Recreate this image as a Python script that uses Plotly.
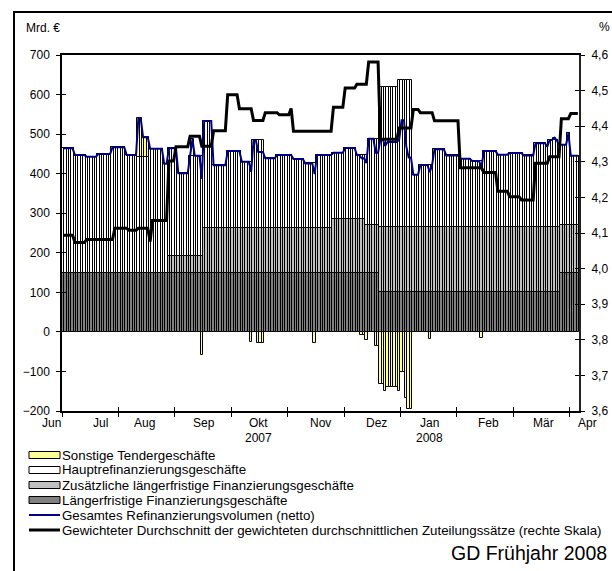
import numpy as np
import plotly.graph_objects as go

# business days on a category axis, Jun 2007 - Mar 2008
N_DAYS = 220

# values are run-length coded: level, number of days it holds
LTRO_LEVELS = [150, 100, 150]
LTRO_RUNS = [135, 77, 8]

SUPP_LEVELS = [0, 42, 113, 135, 120, 166, 120]
SUPP_RUNS = [45, 15, 55, 14, 6, 77, 8]

MRO_LEVELS = [314, 297, 293, 300, 317, 297, 293, 313, 275,
              272, 209, 253,
              270, 158, 194, 167, 221, 176, 184, 174, 163, 184,
              168, 180, 162, 177, 218,
              353, 370, 131, 156, 196, 180, 172, 166, 191, 182, 186, 180, 211, 202, 219, 207,
              203, 232, 175]
MRO_RUNS = [5, 5, 5, 6, 6, 5, 5, 6, 2,
            4, 5, 6,
            4, 6, 6, 5, 5, 5, 7, 5, 5, 7,
            5, 5, 4, 1, 5,
            8, 6, 3, 6, 5, 6, 5, 5, 6, 5, 6, 5, 5, 1, 4, 1,
            3, 1, 4]

# fine tuning operations (sparse)
OTHER_DAYS = [32, 33, 34, 35, 36, 55, 59, 80, 83, 84, 85, 107, 127, 128, 129,
              133, 134, 135, 136, 137, 138, 139, 140, 141, 142, 143, 144, 145,
              146, 147, 148, 156, 178, 209]
OTHER_VALUES = [97, 97, 49, 49, 49, 42, -58, -25, -29, -29, -29, -27, -8, -8, -20,
                -35, -35, -132, -132, -149, -139, -139, -139, -139, -139, -149, -101, -101,
                -167, -195, -195, -18, -16, 6]

RATE_LEVELS = [4.094, 4.073, 4.082, 4.113, 4.108, 4.113, 4.076, 4.135,
               4.302, 4.342, 4.372, 4.344, 4.387,
               4.488, 4.449, 4.416, 4.438, 4.432, 4.450,
               4.386,
               4.453, 4.507, 4.518, 4.580,
               4.363, 4.395, 4.447, 4.438, 4.415,
               4.283, 4.270, 4.217, 4.202, 4.193,
               4.296, 4.314, 4.421, 4.436]
RATE_RUNS = [5, 5, 12, 6, 4, 5, 1, 7,
             3, 6, 5, 5, 6,
             5, 6, 5, 6, 5, 1,
             17,
             5, 5, 5, 5,
             8, 6, 3, 6, 11,
             10, 6, 5, 5, 6,
             6, 5, 4, 4]

MONTH_LABELS = ["Jun", "Jul", "Aug", "Sep", "Okt", "Nov", "Dez", "Jan", "Feb", "Mär", "Apr"]
MONTH_POS = [-4.8, 15.7, 34.8, 59.9, 83.3, 109.3, 133.5, 155.7, 180.8, 204.2, 223.2]
YEAR_LABELS = ["2007", "2008"]
YEAR_POS = [83.3, 155.7]
TICK_POS = [-0.5 + 24 * k for k in range(10)]

LEGEND_NAMES = [
    "Sonstige Tendergeschäfte",
    "Hauptrefinanzierungsgeschäfte",
    "Zusätzliche längerfristige Finanzierungsgeschäfte",
    "Längerfristige Finanzierungsgeschäfte",
    "Gesamtes Refinanzierungsvolumen (netto)",
    "Gewichteter Durchschnitt der gewichteten durchschnittlichen Zuteilungssätze (rechte Skala)",
]

days = np.arange(N_DAYS)
ltro = np.repeat(LTRO_LEVELS, LTRO_RUNS)
supp = np.repeat(SUPP_LEVELS, SUPP_RUNS)
mro = np.repeat(MRO_LEVELS, MRO_RUNS)
other = np.zeros(N_DAYS)
other[OTHER_DAYS] = OTHER_VALUES
net = ltro + supp + mro + other
rate = np.repeat(RATE_LEVELS, RATE_RUNS)

FONT = "Liberation Sans, Arial, sans-serif"
OUTLINE = dict(color="black", width=1)
C_OTHER, C_MRO, C_SUPP, C_LTRO = "#ffff99", "#ffffff", "#c0c0c0", "#808080"
C_NET, C_RATE = "#000080", "#000000"

# plot area in pixels: x 62..579, y 55..411
PL, PR, PT, PB = 62, 579, 55, 411


def px(x):
    return (x - PL) / (PR - PL)


def py(y):
    return (PB - y) / (PB - PT)


def day_to_paper(d):
    return (d + 0.5) / N_DAYS


fig = go.Figure()
fig.add_bar(x=days, y=ltro, name=LEGEND_NAMES[3], marker=dict(color=C_LTRO, line=OUTLINE))
fig.add_bar(x=days, y=supp, name=LEGEND_NAMES[2], marker=dict(color=C_SUPP, line=OUTLINE))
fig.add_bar(x=days, y=mro, name=LEGEND_NAMES[1], marker=dict(color=C_MRO, line=OUTLINE))
fig.add_bar(x=days, y=other, name=LEGEND_NAMES[0], marker=dict(color=C_OTHER, line=OUTLINE))
fig.add_scatter(x=days, y=net, mode="lines", name=LEGEND_NAMES[4],
                line=dict(color=C_NET, width=2))
fig.add_scatter(x=days, y=rate, mode="lines", name=LEGEND_NAMES[5], yaxis="y2",
                line=dict(color=C_RATE, width=3))
# empty traces so the overlay axes (inner half of the crossing ticks) get drawn
fig.add_scatter(x=[], y=[], xaxis="x2", yaxis="y", showlegend=False, hoverinfo="skip")
fig.add_scatter(x=[], y=[], xaxis="x", yaxis="y3", showlegend=False, hoverinfo="skip")
fig.add_scatter(x=[], y=[], xaxis="x", yaxis="y4", showlegend=False, hoverinfo="skip")

axis_common = dict(showgrid=False, zeroline=False, automargin=False, tickcolor="black",
                   ticklen=4, tickwidth=1, tickfont=dict(family=FONT, size=12, color="black"))

fig.update_layout(
    width=612,
    height=571,
    margin=dict(l=PL, r=612 - PR, t=PT, b=571 - PB),
    paper_bgcolor="white",
    plot_bgcolor="white",
    barmode="relative",
    bargap=0,
    showlegend=False,
    separators=", ",
    font=dict(family=FONT, size=12, color="black"),
    xaxis=dict(range=[-0.5, N_DAYS - 0.5], tickvals=TICK_POS, showticklabels=False,
               ticks="outside", showline=True, linecolor="black", linewidth=1.5, mirror=True,
               **axis_common),
    xaxis2=dict(range=[-0.5, N_DAYS - 0.5], overlaying="x", tickvals=TICK_POS,
                showticklabels=False, ticks="inside", showline=False, **axis_common),
    yaxis=dict(range=[-200, 700], tick0=0, dtick=100, ticks="outside", showline=True,
               linecolor="black", linewidth=1.5, ticklabelstandoff=4, **axis_common),
    yaxis3=dict(range=[-200, 700], overlaying="y", tick0=0, dtick=100, ticks="inside",
                showticklabels=False, showline=False, **axis_common),
    yaxis2=dict(range=[3.6, 4.6], overlaying="y", side="right", tick0=3.6, dtick=0.1,
                tickformat=".1f", ticks="outside", showline=True, linecolor="#222222",
                linewidth=2, ticklabelstandoff=4, **axis_common),
    yaxis4=dict(range=[3.6, 4.6], overlaying="y", side="right", tick0=3.6, dtick=0.1,
                ticks="inside", showticklabels=False, showline=False, **axis_common),
)

annotations = []
for label, pos in zip(MONTH_LABELS, MONTH_POS):
    annotations.append(dict(x=day_to_paper(pos), y=py(422.5), xref="paper", yref="paper",
                            text=label, showarrow=False, xanchor="center", yanchor="middle"))
for label, pos in zip(YEAR_LABELS, YEAR_POS):
    annotations.append(dict(x=day_to_paper(pos), y=py(437.5), xref="paper", yref="paper",
                            text=label, showarrow=False, xanchor="center", yanchor="middle"))
annotations.append(dict(x=px(24), y=py(28), xref="paper", yref="paper", text="Mrd. €",
                        showarrow=False, xanchor="left", yanchor="middle"))
annotations.append(dict(x=px(597), y=py(27), xref="paper", yref="paper", text="%",
                        showarrow=False, xanchor="left", yanchor="middle"))
annotations.append(dict(x=px(609), y=py(553), xref="paper", yref="paper",
                        text="GD Frühjahr 2008", showarrow=False, xanchor="right",
                        yanchor="middle", font=dict(size=19.5)))

# legend drawn by hand: wide flat swatches like the original
shapes = []
legend_fill = [C_OTHER, C_MRO, C_SUPP, C_LTRO]
row_y = [455 + 15 * k for k in range(6)]
for k, name in enumerate(LEGEND_NAMES):
    yc = row_y[k]
    if k < 4:
        shapes.append(dict(type="rect", xref="paper", yref="paper", x0=px(29), x1=px(60),
                           y0=py(yc + 3.5), y1=py(yc - 3.5), fillcolor=legend_fill[k],
                           line=dict(color="black", width=1)))
    else:
        color = C_NET if k == 4 else C_RATE
        shapes.append(dict(type="line", xref="paper", yref="paper", x0=px(29), x1=px(60),
                           y0=py(yc), y1=py(yc), line=dict(color=color, width=2 if k == 4 else 3)))
    annotations.append(dict(x=px(60), y=py(yc), xref="paper", yref="paper", text=name,
                            showarrow=False, xanchor="left", yanchor="middle",
                            font=dict(size=13.3)))

# outer frame, cut by the right and bottom edge of the picture
shapes.append(dict(type="rect", xref="paper", yref="paper", x0=px(14), x1=px(616),
                   y0=py(576), y1=py(12), line=dict(color="black", width=2)))

fig.update_layout(annotations=annotations, shapes=shapes)
# page body has a default 8px margin; drop it so the figure sits at the window corner
fig.write_html("out.html", config={"displayModeBar": False},
               post_script="document.body.style.margin='0px';")
